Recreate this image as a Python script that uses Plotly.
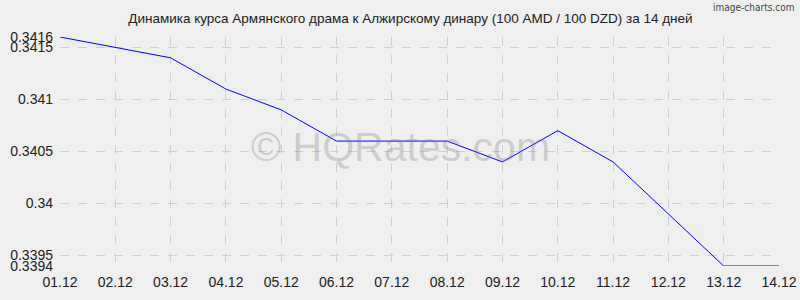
import plotly.graph_objects as go

dates = ["01.12", "02.12", "03.12", "04.12", "05.12", "06.12", "07.12",
         "08.12", "09.12", "10.12", "11.12", "12.12", "13.12", "14.12"]
rates = [0.3416, 0.3415, 0.3414, 0.3411, 0.3409, 0.3406, 0.3406,
         0.3406, 0.3404, 0.3407, 0.3404, 0.3399, 0.3394, 0.3394]
y_ticks = [0.3394, 0.3395, 0.34, 0.3405, 0.341, 0.3415, 0.3416]
y_tick_labels = ["0.3394", "0.3395", "0.34", "0.3405", "0.341", "0.3415", "0.3416"]
title = "Динамика курса Армянского драма к Алжирскому динару (100 AMD / 100 DZD) за 14 дней"

fig = go.Figure()
fig.add_trace(go.Scatter(x=list(range(len(dates))), y=rates, mode="lines",
                         line=dict(color="#0000ff", width=1), hoverinfo="skip"))

grid = dict(showgrid=True, gridcolor="#cfcfcf", griddash="dash", gridwidth=1,
            zeroline=False, showline=False, ticks="", automargin=False,
            tickfont=dict(family="Liberation Sans, Arial", size=14, color="#222"))

fig.update_layout(
    width=800, height=300,
    margin=dict(l=60, r=21, t=37, b=34),
    paper_bgcolor="#efefef", plot_bgcolor="#efefef",
    showlegend=False,
    title=dict(text=title, x=0.513, xanchor="center", y=0.94, yanchor="middle",
               font=dict(family="Liberation Sans, Arial", size=13.5, color="#222")),
    xaxis=dict(range=[0, len(dates) - 1], tickvals=list(range(len(dates))),
               ticktext=dates, **grid),
    yaxis=dict(range=[min(y_ticks), max(y_ticks)], tickvals=y_ticks,
               ticktext=y_tick_labels, **grid),
)
fig.update_xaxes(ticklabelstandoff=6)
fig.update_yaxes(ticklabelstandoff=6)

fig.add_annotation(text="© HQRates.com", xref="paper", yref="paper", x=0.473, y=0.52,
                   showarrow=False,
                   font=dict(family="Liberation Sans, Arial", size=41, color="rgba(120,120,120,0.3)"))
fig.add_annotation(text="image-charts.com", xref="paper", yref="paper", x=1.0, y=1.13,
                   xanchor="right", yanchor="middle", showarrow=False, xshift=17,
                   font=dict(family="Liberation Sans Narrow, DejaVu Sans Condensed, sans-serif",
                             size=10, color="#444"))

fig.write_html("out.html")
